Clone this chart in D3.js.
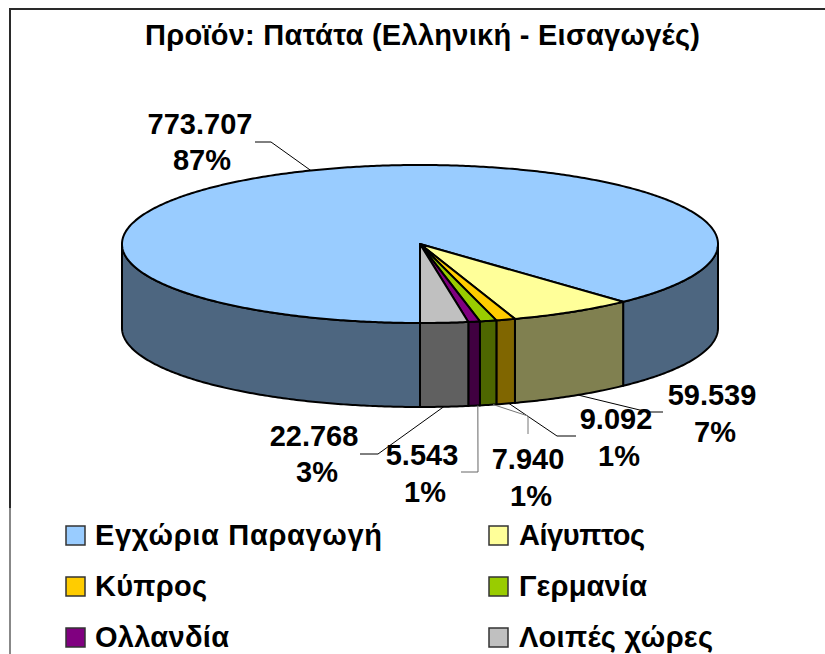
<!DOCTYPE html>
<html><head><meta charset="utf-8">
<style>html,body{margin:0;padding:0;background:#fff}svg{display:block}text{font-family:"Liberation Sans",Arial,sans-serif;font-weight:bold;fill:#000}</style>
<script src="https://cdn.jsdelivr.net/npm/d3@7"></script>
</head><body><svg id="c" width="825" height="654"></svg>
<script>
const categories=["Εγχώρια Παραγωγή","Αίγυπτος","Κύπρος","Γερμανία","Ολλανδία","Λοιπές χώρες"];
const values=[773707,59539,9092,7940,5543,22768];
const valueLabels=["773.707","59.539","9.092","7.940","5.543","22.768"];
const percentLabels=["87%","7%","1%","1%","1%","3%"];
const topColors=["#99CCFF","#FFFF99","#FFCC00","#99CC00","#800080","#C0C0C0"];
const sideColors=["#4D6680","#808050","#806600","#4D6600","#400040","#606060"];
const title="Προϊόν: Πατάτα (Ελληνική - Εισαγωγές)";

const svg=d3.select("#c");
const cx=420,cy=244,rx=298,ry=79,depth=84;
const px=d3.scaleLinear().domain([-1,1]).range([cx-rx,cx+rx]);
const py=d3.scaleLinear().domain([-1,1]).range([cy-ry,cy+ry]);
const X=a=>px(Math.sin(a)),Y=a=>py(-Math.cos(a));
const arcs=d3.pie().sort(null).startAngle(Math.PI).endAngle(3*Math.PI)(values);
const line=d3.line();
const sample=(a,b)=>{const n=Math.max(2,Math.ceil(Math.abs(b-a)/0.01));return d3.range(n+1).map(i=>a+(b-a)*i/n);};

// frame
svg.append("path").attr("d","M10,508V9H825").attr("fill","none").attr("stroke","#2a2a2a").attr("stroke-width",2);
svg.append("path").attr("d","M10,508V654").attr("fill","none").attr("stroke","#888").attr("stroke-width",2);

// side walls
const front=[[Math.PI/2,3*Math.PI/2],[5*Math.PI/2,7*Math.PI/2]];
arcs.forEach((d,i)=>{
  front.forEach(([f0,f1])=>{
    const a=Math.max(d.startAngle,f0),b=Math.min(d.endAngle,f1);
    if(b<=a)return;
    const rim=sample(a,b);
    const pts=rim.map(t=>[X(t),Y(t)]).concat(rim.slice().reverse().map(t=>[X(t),Y(t)+depth]));
    svg.append("path").attr("d",line(pts)+"Z").attr("fill",sideColors[i]).attr("stroke","#000").attr("stroke-width",2);
  });
});
// top faces
arcs.forEach((d,i)=>{
  const pts=[[cx,cy]].concat(sample(d.startAngle,d.endAngle).map(t=>[X(t),Y(t)]));
  svg.append("path").attr("d",line(pts)+"Z").attr("fill",topColors[i]).attr("stroke","#000").attr("stroke-width",2).attr("stroke-linejoin","round");
});

// leader lines: start on the slice rim, then through listed elbow and end points
const leaderFraction=[0.5,0.45,0.33,0.2,0.18,0.51];
const leaderPaths=[[[271,142],[255,142]],[[648,412],[663,412]],[[557,436],[576,436]],[[528,416],[528,434]],[[478,472],[461,472]],[[378,454],[360,454]]];
const leaderColor=["#000","#000","#000","#777","#666","#000"];
arcs.forEach((d,i)=>{
  const a=d.startAngle+leaderFraction[i]*(d.endAngle-d.startAngle);
  const anchor=[X(a),Y(a)+(i===0?0:depth)];
  svg.append("path").attr("d",line([anchor].concat(leaderPaths[i]))).attr("fill","none").attr("stroke",leaderColor[i]).attr("stroke-width",1);
});

// title
svg.append("text").attr("x",422.5).attr("y",45).attr("text-anchor","middle").attr("font-size",29).attr("textLength",555).text(title);

// data labels: value line [x,y], percent line [x,y]
const valuePos=[[200,134],[712,405],[616,429],[528,469],[422,465],[314,446]];
const percentPos=[[202,170],[715,442],[619,466],[531,506],[425,502],[317,482]];
arcs.forEach((d,i)=>{
  svg.append("text").attr("x",valuePos[i][0]).attr("y",valuePos[i][1]).attr("text-anchor","middle").attr("font-size",29).text(valueLabels[i]);
  svg.append("text").attr("x",percentPos[i][0]).attr("y",percentPos[i][1]).attr("text-anchor","middle").attr("font-size",29).text(percentLabels[i]);
});

// legend
const colX=[66,489],rowY=[545,596,647],legendLen=[287,126,112,128,134,194];
categories.forEach((c,i)=>{
  const x=colX[i%2],y=rowY[Math.floor(i/2)];
  svg.append("rect").attr("x",x).attr("y",y-19).attr("width",19).attr("height",19).attr("fill",topColors[i]).attr("stroke","#333").attr("stroke-width",1.5);
  svg.append("text").attr("x",x+(i%2?30:29)).attr("y",y).attr("font-size",29).attr("textLength",legendLen[i]).text(c);
});
</script></body></html>
